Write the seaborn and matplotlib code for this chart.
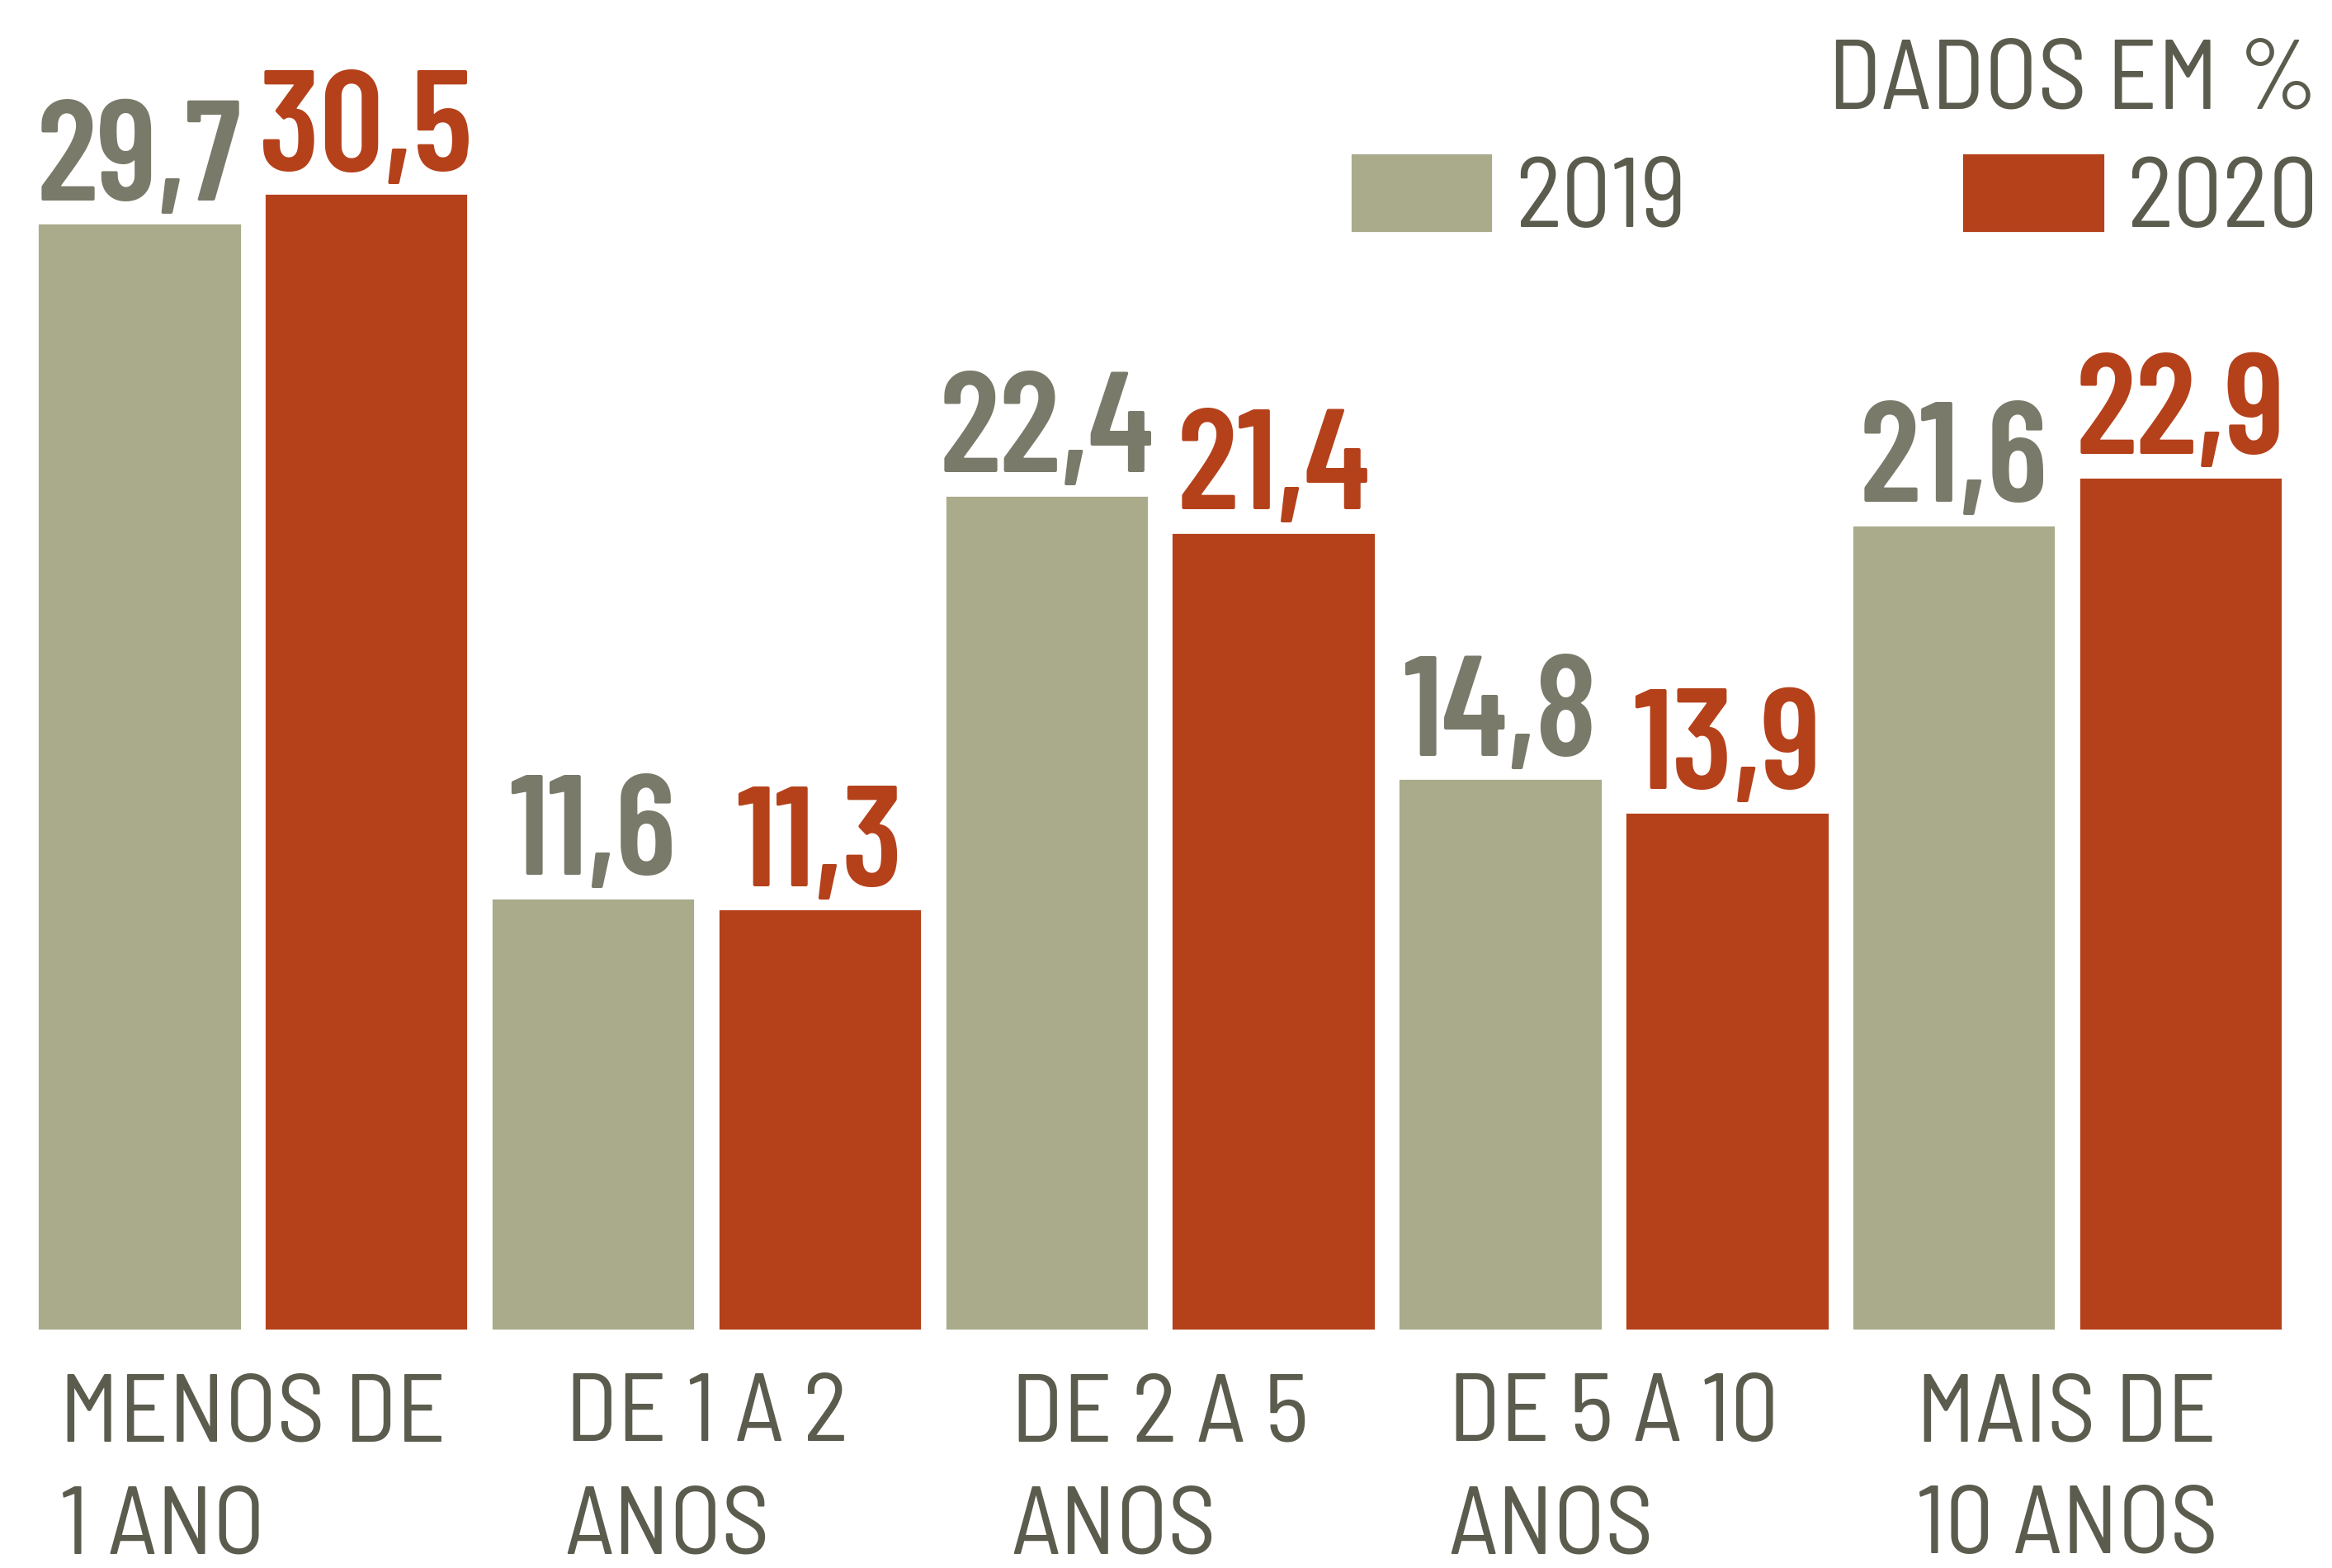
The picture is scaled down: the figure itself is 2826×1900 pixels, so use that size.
import pandas as pd
import matplotlib.pyplot as plt
import seaborn as sns

# --- data ---
faixas = ['MENOS DE\n1 ANO', 'DE 1 A 2\nANOS', 'DE 2 A 5\nANOS', 'DE 5 A 10\nANOS', 'MAIS DE\n10 ANOS']
anos = ['2019', '2020']
v2019 = [29.7, 11.6, 22.4, 14.8, 21.6]
v2020 = [30.5, 11.3, 21.4, 13.9, 22.9]

df = pd.DataFrame({
    'Faixa': faixas * 2,
    'Ano': [anos[0]] * 5 + [anos[1]] * 5,
    'Valor': v2019 + v2020,
})

cinza = '#AAAB8B'
vermelho = '#B5411B'
texto = '#5C5C4E'
cinza_num = '#7A7A6A'
cores = {'2019': cinza, '2020': vermelho}

sns.set_theme(style='white')
fonte_txt = ['Barlow Semi Condensed', 'DejaVu Sans']
fonte_num = ['Barlow Condensed', 'DejaVu Sans']
plt.rcParams['font.family'] = fonte_txt

fig = plt.figure(figsize=(14.13, 9.5), dpi=200)
ax = fig.add_axes([0.01116, 0.1518, 0.97254, 0.8318])

sns.barplot(data=df, x='Faixa', y='Valor', hue='Ano', palette=cores,
            width=1.0, gap=0.1, saturation=1, ax=ax, legend=True)

ax.set_xlim(-0.5, 4.5)
ax.set_ylim(0, 35)
sns.despine(ax=ax, left=True, bottom=True)
ax.set_yticks([])
ax.set_xlabel('')
ax.set_ylabel('')
ax.tick_params(axis='x', length=0, pad=19)
for lbl in ax.get_xticklabels():
    lbl.set_fontsize(42)
    lbl.set_color(texto)
    lbl.set_multialignment('left')
    lbl.set_linespacing(1.38)

# value labels on top of each bar
for cont, cor in zip(ax.containers, [cinza_num, vermelho]):
    for bar in cont:
        h = bar.get_height()
        ax.annotate(f'{h:.1f}'.replace('.', ','),
                    (bar.get_x() + bar.get_width() / 2, h),
                    xytext=(0, 10), textcoords='offset points',
                    ha='center', va='baseline', fontsize=62,
                    fontweight=600, color=cor, family=fonte_num)

# legend
handles, labels = ax.get_legend_handles_labels()
ax.legend(handles, labels, ncol=2, loc='center right',
          bbox_to_anchor=(0.994, 0.8729), bbox_transform=fig.transFigure,
          frameon=False, fontsize=43, labelcolor=texto,
          handlelength=1.45, handleheight=0.87, handletextpad=0.22,
          columnspacing=2.8, borderpad=0, borderaxespad=0)

fig.text(0.994, 0.9307, 'DADOS EM %', ha='right', va='baseline',
         fontsize=43, color=texto)

fig.savefig('out.png', dpi=200, facecolor='white')
